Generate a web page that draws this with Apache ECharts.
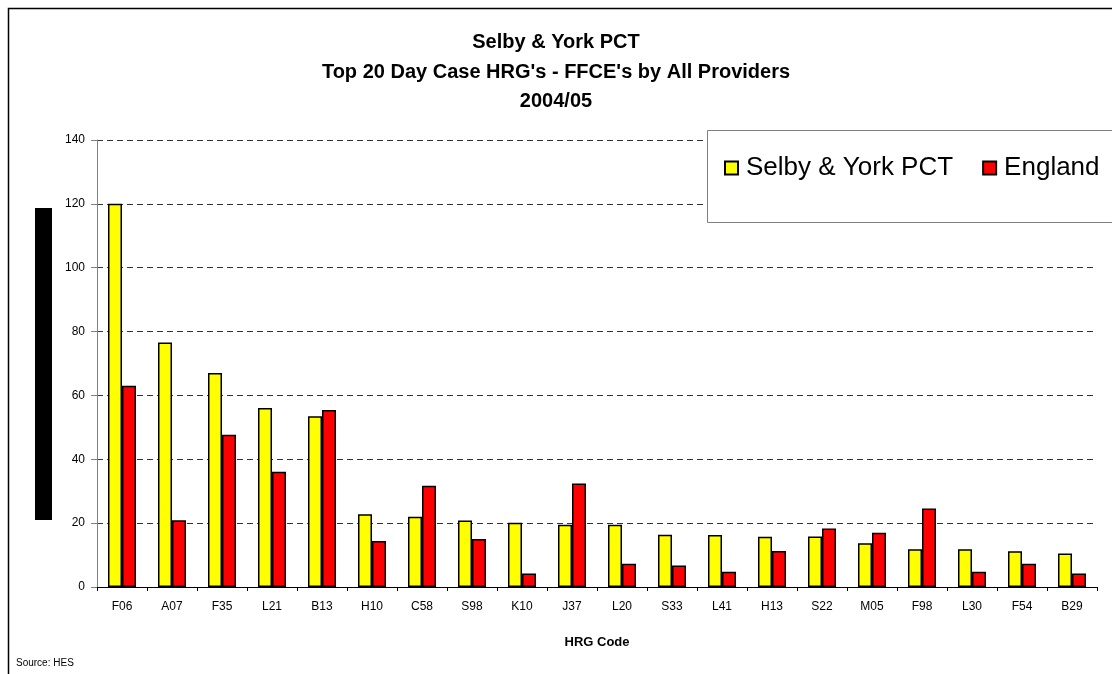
<!DOCTYPE html>
<html>
<head>
<meta charset="utf-8">
<title>Selby & York PCT - Top 20 Day Case HRG's</title>
<script src="https://cdn.jsdelivr.net/npm/echarts@6/dist/echarts.min.js"></script>
<style>
    html, body {margin: 0; padding: 0; background: #fff;}
    #main {width: 1112px; height: 674px;}
</style>
</head>
<body>
<div id="main"></div>
<script>
// HRG codes along the x axis
var aHrgCodes = ['F06', 'A07', 'F35', 'L21', 'B13', 'H10', 'C58', 'S98', 'K10', 'J37',
    'L20', 'S33', 'L41', 'H13', 'S22', 'M05', 'F98', 'L30', 'F54', 'B29'];
// FFCE values
var aSelbyYork = [120, 76.6, 67.0, 56.1, 53.5, 22.8, 22.0, 20.8, 20.1, 19.5,
    19.5, 16.4, 16.3, 15.7, 15.8, 13.7, 11.8, 11.8, 11.2, 10.5];
var aEngland = [63.0, 20.9, 47.7, 36.1, 55.4, 14.4, 31.7, 15.0, 4.2, 32.4,
    7.3, 6.7, 4.8, 11.3, 18.3, 17.0, 24.6, 4.8, 7.3, 4.2];
var aTitleLines = ['Selby & York PCT', "Top 20 Day Case HRG's - FFCE's by All Providers", '2004/05'];

var sFont = '"Liberation Sans", Arial, sans-serif';

function GetOption() {
    var jOption = {
        animation: false,
        textStyle: {fontFamily: sFont},
        title: {
            text: aTitleLines.join('\n'),
            left: 'center',
            top: 23,
            textStyle: {fontSize: 20, fontWeight: 'bold', color: '#000', lineHeight: 29.5, fontFamily: sFont}
        },
        legend: {
            data: ['Selby & York PCT', 'England'],
            left: 724,
            top: 155,
            padding: 0,
            itemWidth: 13,
            itemHeight: 13,
            itemGap: 29,
            icon: 'rect',
            textStyle: {fontSize: 26, color: '#000', fontFamily: sFont, padding: [0, 0, 0, 3]}
        },
        grid: {left: 97, right: 15, top: 140, bottom: 87, containLabel: false},
        xAxis: [{
            type: 'category',
            data: aHrgCodes,
            name: 'HRG Code',
            nameLocation: 'middle',
            nameGap: 49,
            nameTextStyle: {fontSize: 13, fontWeight: 'bold', color: '#000', fontFamily: sFont},
            axisLine: {lineStyle: {color: '#000', width: 1}},
            axisTick: {show: true, length: 4, lineStyle: {color: '#000'}},
            axisLabel: {fontSize: 12, color: '#000', margin: 14}
        }],
        yAxis: [{
            type: 'value',
            min: 0,
            max: 140,
            interval: 20,
            axisLine: {show: true, lineStyle: {color: '#808080', width: 1}},
            axisTick: {show: true, length: 6, lineStyle: {color: '#808080'}},
            axisLabel: {fontSize: 12, color: '#000', margin: 12},
            splitLine: {lineStyle: {color: '#333', type: [6, 4], width: 1}}
        }],
        series: [
            {
                name: 'Selby & York PCT',
                type: 'bar',
                barWidth: 14,
                barGap: '0%',
                itemStyle: {color: '#ffff00', borderColor: '#000', borderWidth: 1.5},
                data: aSelbyYork
            },
            {
                name: 'England',
                type: 'bar',
                barWidth: 14,
                barGap: '0%',
                itemStyle: {color: '#ff0000', borderColor: '#000', borderWidth: 1.5},
                data: aEngland
            }
        ],
        graphic: [
            // outer frame of the chart area (runs off the picture on the right/bottom)
            {type: 'rect', left: 6, top: 6, z: 0, silent: true,
                shape: {width: 1200, height: 800},
                style: {fill: 'none', stroke: '#000', lineWidth: 1.5}},
            // black block where the y axis title was
            {type: 'rect', left: 35, top: 208, z: 1, silent: true,
                shape: {width: 17, height: 312},
                style: {fill: '#000'}},
            // legend box
            {type: 'rect', left: 707, top: 130, z: 3, silent: true,
                shape: {width: 500, height: 92},
                style: {fill: '#fff', stroke: '#808080', lineWidth: 1}},
            {type: 'text', left: 16, top: 658, z: 1, silent: true,
                style: {text: 'Source: HES', fontSize: 10, fill: '#000', fontFamily: sFont}}
        ]
    };
    return jOption
}

function SetOption(jOption, sTagID) {
    var objectDom = document.getElementById(sTagID);
    var myChart = echarts.init(objectDom);
    myChart.setOption(jOption);
    return myChart
}

function drawChart(sTagID) {
    var jOption = GetOption();
    SetOption(jOption, sTagID);
}

drawChart('main');
</script>
</body>
</html>
